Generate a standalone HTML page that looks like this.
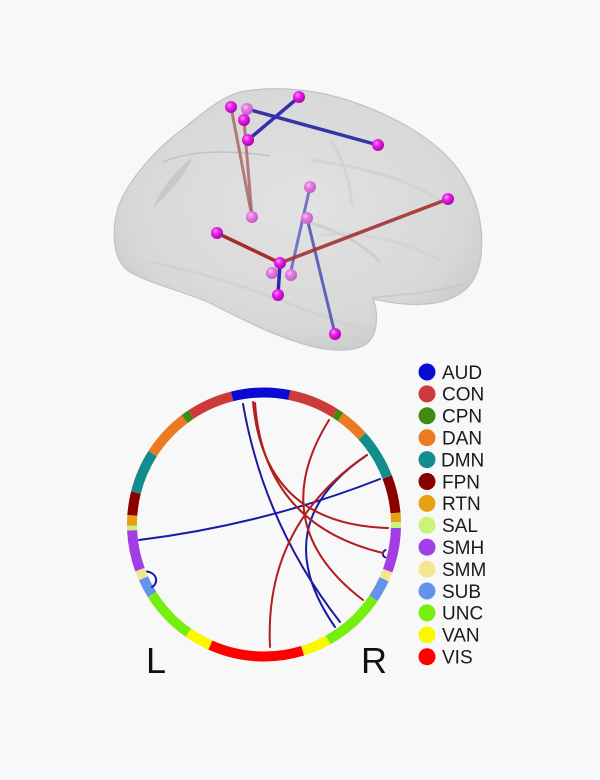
<!DOCTYPE html>
<html><head><meta charset="utf-8"><style>
html,body{margin:0;padding:0;background:#f8f8f8;}
svg{display:block;}
text{font-family:"Liberation Sans",sans-serif;}
</style></head><body>
<svg width="600" height="780" viewBox="0 0 600 780" xmlns="http://www.w3.org/2000/svg">
<defs>
<radialGradient id="bg1" cx="0.5" cy="0.45" r="0.6">
<stop offset="0" stop-color="#e2e2e2"/>
<stop offset="0.75" stop-color="#d8d8d8"/>
<stop offset="1" stop-color="#c9c9c9"/>
</radialGradient>
<radialGradient id="nd" cx="0.38" cy="0.35" r="0.7">
<stop offset="0" stop-color="#ff9cff"/>
<stop offset="0.35" stop-color="#ee22ee"/>
<stop offset="1" stop-color="#a400a8"/>
</radialGradient>
<radialGradient id="nl" cx="0.38" cy="0.35" r="0.7">
<stop offset="0" stop-color="#fbc0f6"/>
<stop offset="0.4" stop-color="#e27ae0"/>
<stop offset="1" stop-color="#c058c4"/>
</radialGradient>
</defs>
<rect width="600" height="780" fill="#f8f8f8"/>

<!-- Brain -->
<path d="M240 92 C270 86 312 88 350 101 C395 116 438 140 460 172 C478 198 484 228 481 255 C478 282 464 298 435 303 C410 307 388 302 373 299 C379 315 378 336 365 345 C350 353 325 351 300 343 C270 334 240 318 210 303 C180 290 150 284 128 271 C111 258 112 226 119 205 C129 180 154 150 184 128 C204 112 220 98 240 92 Z" fill="url(#bg1)" stroke="#c2c2c2" stroke-width="1.2"/>
<path d="M163 162 C190 150 230 150 270 156" fill="none" stroke="#bbbbbb" stroke-width="1.5" opacity="0.8"/>
<path d="M153 208 C160 190 175 170 193 157 C185 175 168 195 153 208 Z" fill="#c4c4c4" opacity="0.8"/>
<path d="M300 220 C330 228 360 240 380 262" fill="none" stroke="#c8c8c8" stroke-width="3" opacity="0.7"/>
<path d="M150 262 C200 272 240 285 280 300 C310 312 340 322 365 330" fill="none" stroke="#cecece" stroke-width="3" opacity="0.7"/>
<path d="M330 140 C345 160 350 185 352 205" fill="none" stroke="#cdcdcd" stroke-width="3" opacity="0.6"/>
<path d="M310 160 C350 165 400 175 440 200" fill="none" stroke="#cdcdcd" stroke-width="3" opacity="0.6"/>
<path d="M320 235 C360 230 400 240 440 260" fill="none" stroke="#d0d0d0" stroke-width="3" opacity="0.6"/>
<path d="M372 298 C398 294 432 294 462 284" fill="none" stroke="#c4c4c4" stroke-width="2" opacity="0.7"/>

<!-- brain edges -->
<g stroke-linecap="round">
<line x1="231" y1="107" x2="252" y2="217" stroke="#a86a6a" stroke-width="3" opacity="0.85"/>
<line x1="244" y1="120" x2="252" y2="217" stroke="#a86a6a" stroke-width="3" opacity="0.85"/>
<line x1="247" y1="109" x2="378" y2="145" stroke="#3434a8" stroke-width="3.5"/>
<line x1="299" y1="97" x2="248" y2="140" stroke="#2f2fb0" stroke-width="3.5"/>
<line x1="310" y1="187" x2="290" y2="275" stroke="#6a6ac6" stroke-width="3" opacity="0.9"/>
<line x1="307" y1="218" x2="335" y2="334" stroke="#5656bc" stroke-width="3" opacity="0.9"/>
<line x1="280" y1="263" x2="278" y2="295" stroke="#2a2ab4" stroke-width="3.5"/>
<line x1="217" y1="233" x2="280" y2="263" stroke="#a42c2c" stroke-width="3.5"/>
<line x1="280" y1="263" x2="448" y2="199" stroke="#a43232" stroke-width="3.5" opacity="0.9"/>
</g>
<!-- nodes -->
<g>
<circle cx="247" cy="109" r="6" fill="url(#nl)"/>
<circle cx="231" cy="107" r="6" fill="url(#nd)"/>
<circle cx="244" cy="120" r="6" fill="url(#nd)"/>
<circle cx="248" cy="140" r="6" fill="url(#nd)"/>
<circle cx="299" cy="97" r="6" fill="url(#nd)"/>
<circle cx="378" cy="145" r="6" fill="url(#nd)"/>
<circle cx="252" cy="217" r="6" fill="url(#nl)"/>
<circle cx="310" cy="187" r="6" fill="url(#nl)"/>
<circle cx="307" cy="218" r="6" fill="url(#nl)"/>
<circle cx="217" cy="233" r="6" fill="url(#nd)"/>
<circle cx="448" cy="199" r="6" fill="url(#nd)"/>
<circle cx="272" cy="273" r="6" fill="url(#nl)"/>
<circle cx="291" cy="275" r="6" fill="url(#nl)"/>
<circle cx="280" cy="263" r="6" fill="url(#nd)"/>
<circle cx="278" cy="295" r="6" fill="url(#nd)"/>
<circle cx="335" cy="334" r="6" fill="url(#nd)"/>
</g>

<!-- Chord ring -->
<g fill="none" stroke-width="10">
<circle cx="264" cy="524.5" r="132" pathLength="360" stroke="#0a0ad2" stroke-dasharray="25.5 400" transform="rotate(256 264 524.5)"/>
<circle cx="264" cy="524.5" r="132" pathLength="360" stroke="#cc3a3a" stroke-dasharray="21.5 400" transform="rotate(-79 264 524.5)"/>
<circle cx="264" cy="524.5" r="132" pathLength="360" stroke="#418a12" stroke-dasharray="3 400" transform="rotate(-57.5 264 524.5)"/>
<circle cx="264" cy="524.5" r="132" pathLength="360" stroke="#ec7a22" stroke-dasharray="12.5 400" transform="rotate(-54.5 264 524.5)"/>
<circle cx="264" cy="524.5" r="132" pathLength="360" stroke="#128c8c" stroke-dasharray="21 400" transform="rotate(-42 264 524.5)"/>
<circle cx="264" cy="524.5" r="132" pathLength="360" stroke="#8a0000" stroke-dasharray="16 400" transform="rotate(-21 264 524.5)"/>
<circle cx="264" cy="524.5" r="132" pathLength="360" stroke="#e6a214" stroke-dasharray="4 400" transform="rotate(-5 264 524.5)"/>
<circle cx="264" cy="524.5" r="132" pathLength="360" stroke="#c8f47a" stroke-dasharray="2.5 400" transform="rotate(-1 264 524.5)"/>
<circle cx="264" cy="524.5" r="132" pathLength="360" stroke="#a23ee6" stroke-dasharray="19 400" transform="rotate(1.5 264 524.5)"/>
<circle cx="264" cy="524.5" r="132" pathLength="360" stroke="#f4e690" stroke-dasharray="4 400" transform="rotate(20.5 264 524.5)"/>
<circle cx="264" cy="524.5" r="132" pathLength="360" stroke="#6494ea" stroke-dasharray="9.5 400" transform="rotate(24.5 264 524.5)"/>
<circle cx="264" cy="524.5" r="132" pathLength="360" stroke="#76ee10" stroke-dasharray="27 400" transform="rotate(34 264 524.5)"/>
<circle cx="264" cy="524.5" r="132" pathLength="360" stroke="#f8f800" stroke-dasharray="12 400" transform="rotate(61 264 524.5)"/>
<circle cx="264" cy="524.5" r="132" pathLength="360" stroke="#fe0000" stroke-dasharray="41 400" transform="rotate(73 264 524.5)"/>
<circle cx="264" cy="524.5" r="132" pathLength="360" stroke="#f8f800" stroke-dasharray="11 400" transform="rotate(114 264 524.5)"/>
<circle cx="264" cy="524.5" r="132" pathLength="360" stroke="#76ee10" stroke-dasharray="23 400" transform="rotate(125 264 524.5)"/>
<circle cx="264" cy="524.5" r="132" pathLength="360" stroke="#6494ea" stroke-dasharray="8 400" transform="rotate(148 264 524.5)"/>
<circle cx="264" cy="524.5" r="132" pathLength="360" stroke="#f4e690" stroke-dasharray="4 400" transform="rotate(156 264 524.5)"/>
<circle cx="264" cy="524.5" r="132" pathLength="360" stroke="#a23ee6" stroke-dasharray="17.5 400" transform="rotate(160 264 524.5)"/>
<circle cx="264" cy="524.5" r="132" pathLength="360" stroke="#c8f47a" stroke-dasharray="2 400" transform="rotate(177.5 264 524.5)"/>
<circle cx="264" cy="524.5" r="132" pathLength="360" stroke="#e6a214" stroke-dasharray="4.5 400" transform="rotate(179.5 264 524.5)"/>
<circle cx="264" cy="524.5" r="132" pathLength="360" stroke="#8a0000" stroke-dasharray="10 400" transform="rotate(184 264 524.5)"/>
<circle cx="264" cy="524.5" r="132" pathLength="360" stroke="#128c8c" stroke-dasharray="18.5 400" transform="rotate(194 264 524.5)"/>
<circle cx="264" cy="524.5" r="132" pathLength="360" stroke="#ec7a22" stroke-dasharray="20.5 400" transform="rotate(212.5 264 524.5)"/>
<circle cx="264" cy="524.5" r="132" pathLength="360" stroke="#418a12" stroke-dasharray="3.5 400" transform="rotate(233 264 524.5)"/>
<circle cx="264" cy="524.5" r="132" pathLength="360" stroke="#cc3a3a" stroke-dasharray="19.5 400" transform="rotate(236.5 264 524.5)"/>
</g>

<!-- chords -->
<g fill="none" stroke-width="2" stroke-linecap="round">
<path d="M243 404 Q264 524.5 340 622" stroke="#1a1aa0"/>
<path d="M139 540 Q264 524.5 380 479" stroke="#1a1aa8"/>
<path d="M367 455 Q264 524.5 335 627" stroke="#1a1aa8"/>
<path d="M147 571.5 C157 573 159 583 152 587" stroke="#1a1aa8"/>
<path d="M385.5 550 C382 552 382 556 385.5 557.5" stroke="#1a1aa8"/>
<path d="M253 402 Q264 524.5 388 528" stroke="#b01e1e"/>
<path d="M255 403 Q264 524.5 383 553" stroke="#b01e1e"/>
<path d="M329 420 Q264 524.5 363 600" stroke="#b01e1e"/>
<path d="M367 455 Q264 524.5 270 647" stroke="#b01e1e"/>
</g>

<text x="146" y="673" font-size="36" fill="#111">L</text>
<text x="361" y="673" font-size="36" fill="#111">R</text>

<!-- legend -->
<g font-size="19" fill="#1a1a1a">
<circle cx="427" cy="372" r="8.5" fill="#0a0ad2"/><text x="442" y="378.8">AUD</text>
<circle cx="427" cy="393.9" r="8.5" fill="#cc3a3a"/><text x="442" y="400.7">CON</text>
<circle cx="427" cy="415.8" r="8.5" fill="#418a12"/><text x="442" y="422.6">CPN</text>
<circle cx="427" cy="437.7" r="8.5" fill="#ec7a22"/><text x="442" y="444.5">DAN</text>
<circle cx="427" cy="459.6" r="8.5" fill="#128c8c"/><text x="441" y="466.4">DMN</text>
<circle cx="427" cy="481.5" r="8.5" fill="#8a0000"/><text x="442" y="488.3">FPN</text>
<circle cx="427" cy="503.4" r="8.5" fill="#e6a214"/><text x="442" y="510.2">RTN</text>
<circle cx="427" cy="525.3" r="8.5" fill="#c8f47a"/><text x="442" y="532.1">SAL</text>
<circle cx="427" cy="547.2" r="8.5" fill="#a23ee6"/><text x="442" y="554">SMH</text>
<circle cx="427" cy="569.1" r="8.5" fill="#f4e690"/><text x="442" y="575.9">SMM</text>
<circle cx="427" cy="591" r="8.5" fill="#6494ea"/><text x="442" y="597.8">SUB</text>
<circle cx="427" cy="612.9" r="8.5" fill="#76ee10"/><text x="442" y="619.7">UNC</text>
<circle cx="427" cy="634.8" r="8.5" fill="#f8f800"/><text x="442" y="641.6">VAN</text>
<circle cx="427" cy="656.7" r="8.5" fill="#fe0000"/><text x="442" y="663.5">VIS</text>
</g>
</svg>
</body></html>
